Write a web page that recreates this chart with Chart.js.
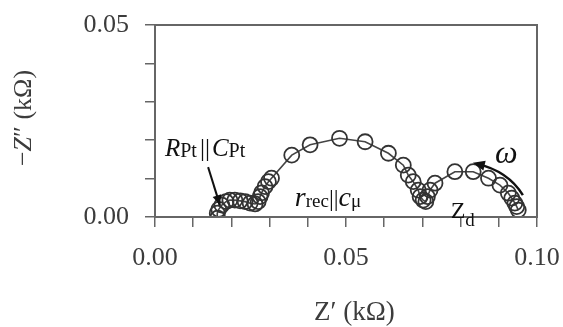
<!DOCTYPE html>
<html>
<head>
<meta charset="utf-8">
<script src="https://cdn.jsdelivr.net/npm/chart.js@4"></script>
<style>
  html, body { margin: 0; padding: 0; background: #fff; }
  #wrap { width: 563px; height: 327px; }
</style>
</head>
<body>
<div id="wrap"><canvas id="c"></canvas></div>
<script>
// Nyquist data, Z' (kOhm) and -Z'' (kOhm), high frequency on the left
const zReal = [
  0.0164, 0.0163, 0.0167, 0.0175, 0.0186, 0.0196, 0.0209, 0.0223, 0.0236, 0.0249,
  0.0262, 0.0270, 0.0275, 0.0279, 0.0288, 0.0297, 0.0305, 0.0358, 0.0406, 0.0483,
  0.0550, 0.0611, 0.0650, 0.0663, 0.0676, 0.0689, 0.0694, 0.0702, 0.0709, 0.0713,
  0.0720, 0.0733, 0.0785, 0.0833, 0.0873, 0.0903, 0.0925, 0.0934, 0.0942, 0.0947,
  0.0951
];
const zImag = [
  -0.0003, 0.0010, 0.0020, 0.0031, 0.0040, 0.0044, 0.0044, 0.0042, 0.0040, 0.0036,
  0.0034, 0.0040, 0.0053, 0.0063, 0.0079, 0.0092, 0.0101, 0.0161, 0.0188, 0.0205,
  0.0196, 0.0166, 0.0135, 0.0109, 0.0092, 0.0070, 0.0053, 0.0044, 0.0040, 0.0053,
  0.0070, 0.0088, 0.0118, 0.0118, 0.0101, 0.0083, 0.0062, 0.0049, 0.0036, 0.0027,
  0.0018
];
const xLabels = ['0.00', '0.05', '0.10'];
const yLabels = ['0.00', '0.05'];

const ink = '#3c3c3c';
const axisCol = '#666666';
const serif = '"Liberation Serif", "DejaVu Serif", serif';

const points = zReal.map((v, i) => ({ x: v, y: zImag[i] }));

// draws a run of text pieces [text, size, italic, dy, gapAfter]
function drawRuns(ctx, x, y, runs) {
  let cx = x;
  runs.forEach(r => {
    ctx.font = (r[2] ? 'italic ' : '') + r[1] + 'px ' + serif;
    ctx.fillText(r[0], cx, y + (r[3] || 0));
    cx += ctx.measureText(r[0]).width + (r[4] || 0);
  });
  return cx - x;
}

function runsWidth(ctx, runs) {
  let w = 0;
  runs.forEach(r => {
    ctx.font = (r[2] ? 'italic ' : '') + r[1] + 'px ' + serif;
    w += ctx.measureText(r[0]).width + (r[4] || 0);
  });
  return w;
}

function arrowHead(ctx, x, y, ang, len, wid) {
  ctx.beginPath();
  ctx.moveTo(x, y);
  ctx.lineTo(x - len * Math.cos(ang) + wid * Math.sin(ang), y - len * Math.sin(ang) - wid * Math.cos(ang));
  ctx.lineTo(x - len * Math.cos(ang) - wid * Math.sin(ang), y - len * Math.sin(ang) + wid * Math.cos(ang));
  ctx.closePath();
  ctx.fill();
}

const extras = {
  id: 'extras',
  afterDraw(chart) {
    const ctx = chart.ctx;
    const a = chart.chartArea;
    const xs = chart.scales.x, ys = chart.scales.y;
    const px = v => xs.getPixelForValue(v);
    const py = v => ys.getPixelForValue(v);
    ctx.save();
    // frame
    ctx.strokeStyle = axisCol;
    ctx.lineWidth = 2;
    ctx.strokeRect(a.left, a.top, a.right - a.left, a.bottom - a.top);

    ctx.fillStyle = ink;
    ctx.textBaseline = 'alphabetic';
    ctx.textAlign = 'left';

    // axis titles
    drawRuns(ctx, 314, 320, [["Z", 27, false], ["\u2032 (k\u03a9)", 27, false]]);
    const yTitle = [["\u2212", 26, false], ["Z", 26, true], ["\u2033 (k\u03a9)", 26, false]];
    const yw = runsWidth(ctx, yTitle);
    ctx.save();
    ctx.translate(31, 118 + yw / 2);
    ctx.rotate(-Math.PI / 2);
    drawRuns(ctx, 0, 0, yTitle);
    ctx.restore();

    // annotations
    ctx.fillStyle = '#111';
    drawRuns(ctx, px(0.0026), py(0.0159), [
      ['R', 25, true], ['Pt', 20, false, 1, 3], ['||', 25, false, 0, 2], ['C', 25, true], ['Pt', 20, false, 1]
    ]);
    drawRuns(ctx, px(0.0366), py(0.0029), [
      ['r', 28, true], ['rec', 19, false, 1], ['||', 24, false], ['c', 28, true], ['\u03bc', 19, false, 1]
    ]);
    drawRuns(ctx, px(0.0890), py(0.0141), [['\u03c9', 32, true]]);
    drawRuns(ctx, px(0.0774), py(-0.0003), [['Z', 24, false], ['d', 19, false, 8]]);

    ctx.strokeStyle = '#111';
    ctx.lineWidth = 2;
    // straight arrow to the R||C arc
    let x0 = px(0.0139), y0 = py(0.0130), x1 = px(0.0170), y1 = py(0.0031);
    ctx.beginPath(); ctx.moveTo(x0, y0); ctx.lineTo(x1, y1); ctx.stroke();
    arrowHead(ctx, x1, y1, Math.atan2(y1 - y0, x1 - x0), 10, 4.5);
    // curved omega arrow
    x0 = px(0.0963); y0 = py(0.0057);
    const cx = px(0.0924), cy = py(0.0120);
    x1 = px(0.0832); y1 = py(0.0141);
    ctx.lineWidth = 2.5;
    ctx.beginPath(); ctx.moveTo(x0, y0); ctx.quadraticCurveTo(cx, cy, x1 + 4, y1 + 1); ctx.stroke();
    arrowHead(ctx, x1, y1, Math.atan2(y1 - cy, x1 - cx), 12, 5);
    ctx.restore();
  }
};

new Chart(document.getElementById('c'), {
  type: 'scatter',
  data: {
    datasets: [{
      data: points,
      showLine: true,
      borderColor: '#444444',
      borderWidth: 1.6,
      pointRadius: 7.5,
      pointHoverRadius: 7.5,
      pointBorderWidth: 1.8,
      pointBorderColor: '#333333',
      pointBackgroundColor: 'rgba(0,0,0,0)',
      tension: 0
    }]
  },
  options: {
    responsive: true,
    maintainAspectRatio: false,
    animation: false,
    layout: { padding: { top: 25, right: 26, left: 0, bottom: 0 } },
    plugins: { legend: { display: false }, tooltip: { enabled: false } },
    scales: {
      x: {
        type: 'linear', min: 0, max: 0.1,
        border: { display: true, color: axisCol, width: 2 },
        grid: { drawOnChartArea: false, drawTicks: true, tickLength: 10, color: axisCol, lineWidth: 1.5 },
        ticks: {
          stepSize: 0.01, maxRotation: 0, autoSkip: false, padding: 16, color: ink,
          font: { family: serif, size: 26 },
          callback: (v) => {
            const k = Math.round(v * 100);
            return k % 5 === 0 ? xLabels[k / 5] : '';
          }
        },
        afterFit: s => { s.height = 110; s.paddingLeft = 0; s.paddingRight = 0; }
      },
      y: {
        type: 'linear', min: 0, max: 0.05,
        border: { display: true, color: axisCol, width: 2 },
        grid: { drawOnChartArea: false, drawTicks: true, tickLength: 10, color: axisCol, lineWidth: 1.5 },
        ticks: {
          stepSize: 0.01, autoSkip: false, padding: 16, color: ink,
          font: { family: serif, size: 26 },
          callback: (v) => {
            const k = Math.round(v * 100);
            return k % 5 === 0 ? yLabels[k / 5] : '';
          }
        },
        afterFit: s => { s.width = 155; s.paddingTop = 0; s.paddingBottom = 0; }
      }
    }
  },
  plugins: [extras]
});
</script>
</body>
</html>
